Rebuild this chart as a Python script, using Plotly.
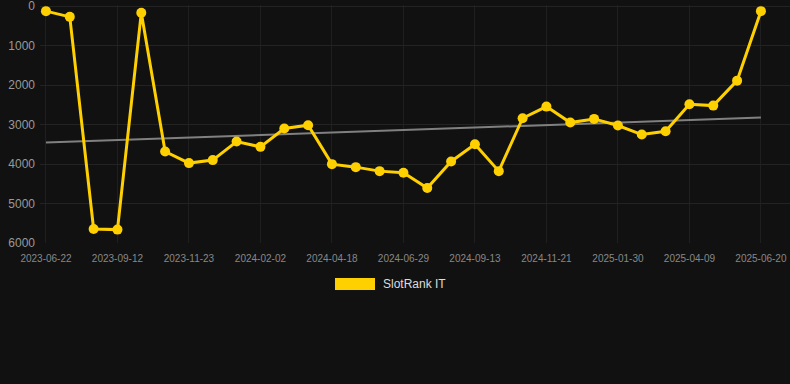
import plotly.graph_objects as go

dates = ["2023-06-22", "2023-07-19", "2023-08-16", "2023-09-12", "2023-10-06", "2023-10-30",
         "2023-11-23", "2023-12-17", "2024-01-09", "2024-02-02", "2024-02-27", "2024-03-23",
         "2024-04-18", "2024-05-12", "2024-06-05", "2024-06-29", "2024-07-24", "2024-08-19",
         "2024-09-13", "2024-10-06", "2024-10-29", "2024-11-21", "2024-12-14", "2025-01-06",
         "2025-01-30", "2025-02-22", "2025-03-17", "2025-04-09", "2025-05-03", "2025-05-27",
         "2025-06-20"]
rank = [126, 270, 5645, 5661, 168, 3682, 3976, 3900, 3429, 3564, 3100, 3016,
        4002, 4078, 4179, 4221, 4608, 3934, 3496, 4179, 2839, 2544, 2949, 2856,
        3024, 3252, 3168, 2485, 2519, 1887, 126]
trend_x = [dates[0], dates[-1]]
trend_y = [3454, 2822]
tick_labels = dates[::3]
y_ticks = [0, 1000, 2000, 3000, 4000, 5000, 6000]
series_name = "SlotRank IT"

GOLD = "#FFD000"
PLOT_L, PLOT_W, PLOT_B, PLOT_H = 40, 750, 243, 238

fig = go.Figure()
fig.add_trace(go.Scatter(
    x=trend_x, y=trend_y, mode="lines",
    line=dict(color="#808080", width=2),
    showlegend=False, hoverinfo="skip"))
fig.add_trace(go.Scatter(
    x=dates, y=rank, mode="lines+markers", name=series_name,
    line=dict(color=GOLD, width=3),
    marker=dict(color=GOLD, size=10),
    showlegend=False))

# legend drawn as a swatch + label below the plot
fig.add_shape(type="rect", xref="paper", yref="paper",
              x0=(335 - PLOT_L) / PLOT_W, x1=(375 - PLOT_L) / PLOT_W,
              y0=-(278 - PLOT_B) / PLOT_H, y1=-(290 - PLOT_B) / PLOT_H,
              fillcolor=GOLD, line=dict(width=0))
fig.add_annotation(text=series_name, xref="paper", yref="paper",
                   x=(381 - PLOT_L) / PLOT_W, y=-(284 - PLOT_B) / PLOT_H,
                   xanchor="left", yanchor="middle", showarrow=False,
                   font=dict(size=12, color="#dddddd"))

fig.update_layout(
    width=790, height=384,
    margin=dict(l=40, r=0, t=5, b=141),
    paper_bgcolor="#111111", plot_bgcolor="#111111",
    font=dict(family="Liberation Sans, Arial, sans-serif", color="#999999"),
    showlegend=False,
    xaxis=dict(type="category", categoryorder="array", categoryarray=dates,
               range=[-0.25, 31.22], automargin=False,
               tickmode="array", tickvals=tick_labels, ticktext=tick_labels,
               tickfont=dict(size=10, color="#888888"),
               ticks="outside", ticklen=6, tickcolor="rgba(0,0,0,0)",
               ticklabeloverflow="allow",
               showgrid=True, gridcolor="#1f1f1f", gridwidth=1,
               zeroline=False, showline=False),
    yaxis=dict(range=[6000, -30], tickmode="array", tickvals=y_ticks, automargin=False,
               tickfont=dict(size=12, color="#999999"),
               ticklabeloverflow="allow",
               showgrid=True, gridcolor="#232323", gridwidth=1,
               zeroline=False, showline=False, ticks="", ticklabelstandoff=4),
)

fig.write_html("out.html", config={"displayModeBar": False},
               post_script="document.body.style.margin='0';document.body.style.background='#111111';")
